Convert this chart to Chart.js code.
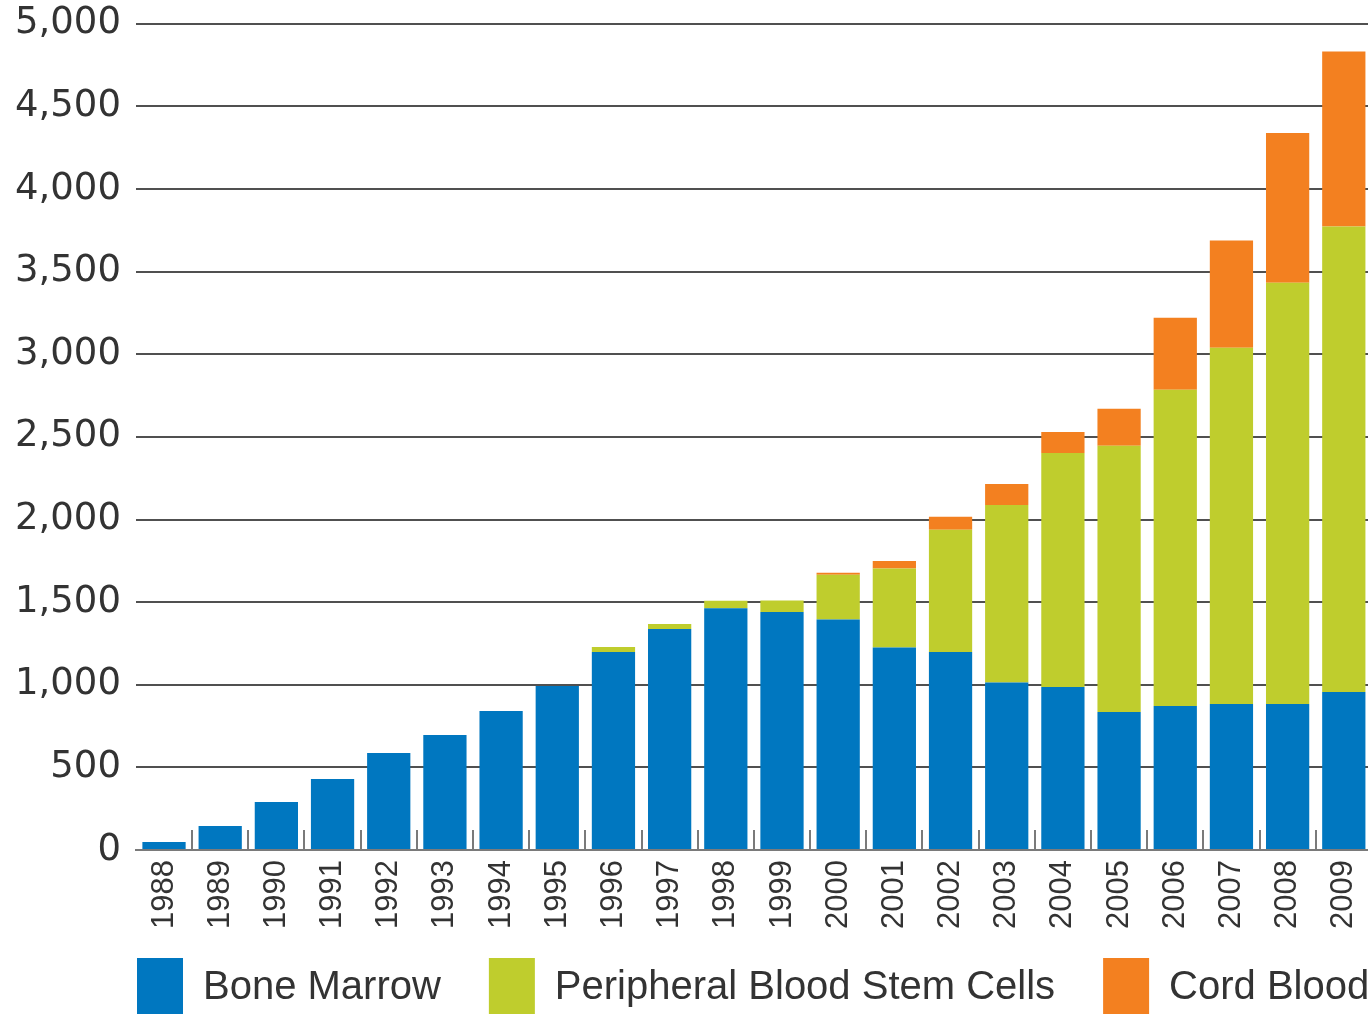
<!DOCTYPE html>
<html>
<head>
<meta charset="utf-8">
<script src="https://cdn.jsdelivr.net/npm/chart.js@4"></script>
<style>
  html, body { margin: 0; padding: 0; background: #fff; overflow: hidden; }
  #wrap { width: 1368px; height: 1014px; overflow: hidden; }
</style>
</head>
<body>
<div id="wrap"><canvas id="stemChart" width="1391" height="1057"></canvas></div>
<script>
const years = ['1988','1989','1990','1991','1992','1993','1994','1995','1996','1997','1998',
  '1999','2000','2001','2002','2003','2004','2005','2006','2007','2008','2009'];
const boneMarrow = [48,145,291,430,587,696,841,993,1198,1338,1463,1440,1395,1225,1198,1013,987,835,872,884,884,956];
const pbsc = [0,0,0,0,0,0,0,0,30,30,46,70,270,478,740,1075,1416,1611,1913,2155,2548,2817];
const cordBlood = [0,0,0,0,0,0,0,0,0,0,0,0,13,46,79,127,127,224,435,649,906,1059];
const yTicks = [0,500,1000,1500,2000,2500,3000,3500,4000,4500,5000];

const LEGEND_PAD = 48;

// small gray tick marks between the years, pointing up into the plot
const innerTicks = {
  id: 'innerTicks',
  afterDatasetsDraw(chart) {
    const x = chart.scales.x, c = chart.ctx, bottom = chart.chartArea.bottom;
    c.save();
    c.strokeStyle = '#7a7a7a';
    c.lineWidth = 2;
    for (let i = 1; i <= years.length; i++) {
      const px = Math.round((x.getPixelForValue(i - 1) + x.getPixelForValue(i)) / 2);
      c.beginPath();
      c.moveTo(px, bottom);
      c.lineTo(px, bottom - 20);
      c.stroke();
    }
    c.restore();
  }
};

// legend starts under the plot, not at the canvas edge
const legendShift = {
  id: 'legendShift',
  afterLayout(chart) {
    const lg = chart.legend;
    lg.left = 137 - LEGEND_PAD;
    lg.right = lg.left + 3000;
    lg.top = 958 - LEGEND_PAD;
  }
};

new Chart(document.getElementById('stemChart').getContext('2d'), {
  type: 'bar',
  data: {
    labels: years,
    datasets: [
      { label: 'Bone Marrow', data: boneMarrow, backgroundColor: '#0077c0' },
      { label: 'Peripheral Blood Stem Cells', data: pbsc, backgroundColor: '#bfcd2d' },
      { label: 'Cord Blood', data: cordBlood, backgroundColor: '#f38020' }
    ]
  },
  options: {
    responsive: false,
    animation: false,
    layout: { padding: { left: 0, top: 0, right: 0, bottom: 0 } },
    datasets: { bar: { categoryPercentage: 1, barPercentage: 0.77 } },
    scales: {
      x: {
        stacked: true,
        grid: { display: false, drawTicks: false },
        border: { display: true, color: '#7a7a7a', width: 2 },
        ticks: {
          autoSkip: false, minRotation: 90, maxRotation: 90, padding: 10,
          color: '#333', font: { family: 'Liberation Sans', size: 31 }
        }
      },
      y: {
        stacked: true,
        min: 0, max: 5000,
        afterBuildTicks: (s) => { s.ticks = yTicks.map(v => ({ value: v })); },
        grid: {
          drawTicks: false, lineWidth: 2,
          color: (ctx) => ctx.tick && ctx.tick.value === 0 ? '#7a7a7a' : '#505050'
        },
        border: { display: false },
        ticks: {
          padding: 15, color: '#333',
          font: { family: 'DejaVu Sans', size: 37, lineHeight: 0.47 },
          callback: (v) => v.toLocaleString('en-US')
        }
      }
    },
    plugins: {
      tooltip: { enabled: false },
      legend: {
        position: 'bottom',
        align: 'start',
        labels: {
          boxWidth: 46, boxHeight: 60, padding: LEGEND_PAD,
          color: '#333', font: { family: 'Liberation Sans', size: 40 }
        }
      }
    }
  },
  plugins: [innerTicks, legendShift]
});
</script>
</body>
</html>
